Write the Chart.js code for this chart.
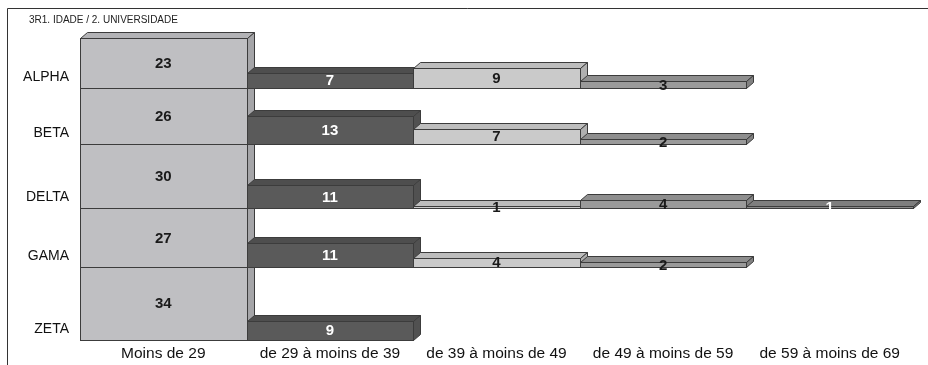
<!DOCTYPE html>
<html>
<head>
<meta charset="utf-8">
<title>3R1. IDADE / 2. UNIVERSIDADE</title>
<script src="https://cdn.jsdelivr.net/npm/chart.js@4/dist/chart.umd.min.js"></script>
<style>
  html, body { margin: 0; padding: 0; background: #fff; }
  #wrap { position: relative; width: 928px; height: 365px; }
</style>
</head>
<body>
<div id="wrap"><canvas id="ageChart" width="928" height="365"></canvas></div>
<script>
// age groups along the bottom, one row band per university
const categories = ['Moins de 29', 'de 29 à moins de 39', 'de 39 à moins de 49', 'de 49 à moins de 59', 'de 59 à moins de 69'];
const rowNames = ['ALPHA', 'BETA', 'DELTA', 'GAMA', 'ZETA'];

const alpha = [23, 7, 9, 3, 0];
const beta  = [26, 13, 7, 2, 0];
const delta = [30, 11, 1, 4, 1];
const gama  = [27, 11, 4, 2, 0];
const zeta  = [34, 9, 0, 0, 0];

const rows = [alpha, beta, delta, gama, zeta];

// per-column colours: front, top, side, label
const colFront = ['#bfbfc2', '#5a5a5a', '#cacaca', '#9a9a9a', '#8a8a8a'];
const colTop   = ['#b3b3b6', '#4e4e4e', '#bdbdbd', '#8e8e8e', '#7e7e7e'];
const colSide  = ['#a5a5a8', '#515151', '#b0b0b0', '#818181', '#737373'];
const colLabel = ['#1a1a1a', '#ffffff', '#1a1a1a', '#1a1a1a', '#ffffff'];

// row bands are sized by the first column, stacked from the bottom (ZETA)
const bases = [];
let total = 0;
for (let r = rows.length - 1; r >= 0; r--) {
  bases[r] = total;
  total += rows[r][0];
}

const tickNames = {};
bases.forEach((b, r) => { tickNames[b + 5] = rowNames[r]; });

const DX = 7, DY = 6;
const FONT = '"Liberation Sans", Arial, sans-serif';

const frame = {
  id: 'frame',
  beforeDraw(chart) {
    const ctx = chart.ctx;
    ctx.save();
    ctx.strokeStyle = '#333';
    ctx.lineWidth = 1;
    ctx.beginPath();
    ctx.moveTo(7.5, 365);
    ctx.lineTo(7.5, 8.5);
    ctx.lineTo(928, 8.5);
    ctx.stroke();
    ctx.fillStyle = '#222';
    ctx.font = '10px ' + FONT;
    ctx.textBaseline = 'middle';
    ctx.fillText('3R1. IDADE / 2. UNIVERSIDADE', 29, 20);
    ctx.restore();
  }
};

function box(ctx, l, r, t, b, c) {
  ctx.strokeStyle = '#3c3c3c';
  ctx.lineWidth = 1;
  // top face
  ctx.beginPath();
  ctx.moveTo(l, t);
  ctx.lineTo(l + DX, t - DY);
  ctx.lineTo(r + DX, t - DY);
  ctx.lineTo(r, t);
  ctx.closePath();
  ctx.fillStyle = colTop[c];
  ctx.fill();
  ctx.stroke();
  // side face
  ctx.beginPath();
  ctx.moveTo(r, t);
  ctx.lineTo(r + DX, t - DY);
  ctx.lineTo(r + DX, b - DY);
  ctx.lineTo(r, b);
  ctx.closePath();
  ctx.fillStyle = colSide[c];
  ctx.fill();
  ctx.stroke();
  // front
  ctx.fillStyle = colFront[c];
  ctx.fillRect(l, t, r - l, b - t);
  ctx.strokeRect(l, t, r - l, b - t);
}

const bars3d = {
  id: 'bars3d',
  afterDatasetsDraw(chart) {
    const ctx = chart.ctx;
    ctx.save();
    for (let c = 0; c < categories.length; c++) {
      for (let r = rows.length - 1; r >= 0; r--) {
        const el = chart.getDatasetMeta(r).data[c];
        if (!el || !rows[r][c]) continue;
        const p = el.getProps(['x', 'y', 'base', 'width'], true);
        const l = Math.round(p.x - p.width / 2) + 0.5;
        const rr = Math.round(p.x + p.width / 2) + 0.5;
        const t = Math.round(p.y) + 0.5;
        const b = Math.round(p.base) + 0.5;
        box(ctx, l, rr, t, b, c);
      }
    }
    // value labels on the front faces
    ctx.font = 'bold 15px ' + FONT;
    ctx.textAlign = 'center';
    ctx.textBaseline = 'middle';
    rows.forEach((vals, r) => {
      const meta = chart.getDatasetMeta(r);
      vals.forEach((v, c) => {
        if (!v) return;
        const p = meta.data[c].getProps(['x', 'y', 'base'], true);
        ctx.fillStyle = colLabel[c];
        ctx.fillText(String(v), p.x, (p.y + p.base) / 2 + 1);
      });
    });
    ctx.restore();
  }
};

new Chart(document.getElementById('ageChart'), {
  type: 'bar',
  data: {
    labels: categories,
    datasets: rows.map((vals, r) => ({
      label: rowNames[r],
      data: vals.map(v => (v ? [bases[r], bases[r] + v] : null)),
      grouped: false,
      backgroundColor: 'rgba(0,0,0,0)',
      borderWidth: 0,
      barPercentage: 1,
      categoryPercentage: 1,
      clip: false
    }))
  },
  options: {
    responsive: false,
    animation: false,
    layout: { padding: { top: 38, right: 15, bottom: 0, left: 0 } },
    plugins: {
      legend: { display: false },
      tooltip: { enabled: false }
    },
    scales: {
      x: {
        grid: { display: false, drawTicks: false },
        border: { display: false },
        ticks: { color: '#111', font: { family: FONT, size: 15.5 }, padding: 4, maxRotation: 0, autoSkip: false },
        afterFit(scale) { scale.height = 25; }
      },
      y: {
        min: 0,
        max: total,
        grid: { display: false, drawTicks: false },
        border: { display: false },
        afterBuildTicks(axis) {
          axis.ticks = bases.slice().reverse().map(b => ({ value: b + 5 }));
        },
        ticks: {
          color: '#111',
          font: { family: FONT, size: 14 },
          padding: 11,
          callback: value => tickNames[value] || ''
        },
        afterFit(scale) { scale.width = 80; }
      }
    }
  },
  plugins: [frame, bars3d]
});
</script>
</body>
</html>
